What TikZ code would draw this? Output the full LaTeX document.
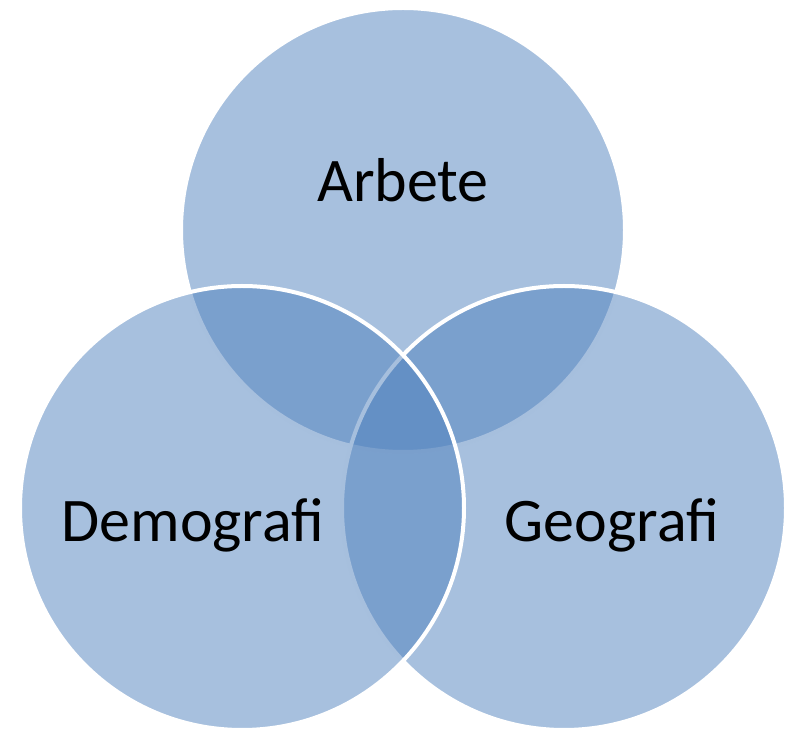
\documentclass[tikz,border=0pt]{standalone}
\usepackage{fontspec}
\setmainfont{Carlito}
\definecolor{setblue}{HTML}{4F81BD}
\tikzset{
		set circle/.style={circle, minimum size=444pt, inner sep=0pt, fill=setblue, fill opacity=0.5, draw=white, draw opacity=1, line width=4pt},
		set label/.style={anchor=base, font=\fontsize{62}{74}\selectfont, text=black}
	}
\begin{document}
\begin{tikzpicture}[x=1pt,y=1pt]
				\useasboundingbox (0,0) rectangle (790,731);
				\node[set circle] (arbete)    at (403,501) {};
				\node[set circle] (geografi)  at (564,223) {};
				\node[set circle] (demografi) at (242,223) {};

				\node[set label] (arbeteText)    at (403,529) {Arbete};
				\node[set label] (demografiText) at (193,189) {Demografi};
				\node[set label] (geografiText)  at (612,189) {Geografi};
			\end{tikzpicture}
\end{document}
